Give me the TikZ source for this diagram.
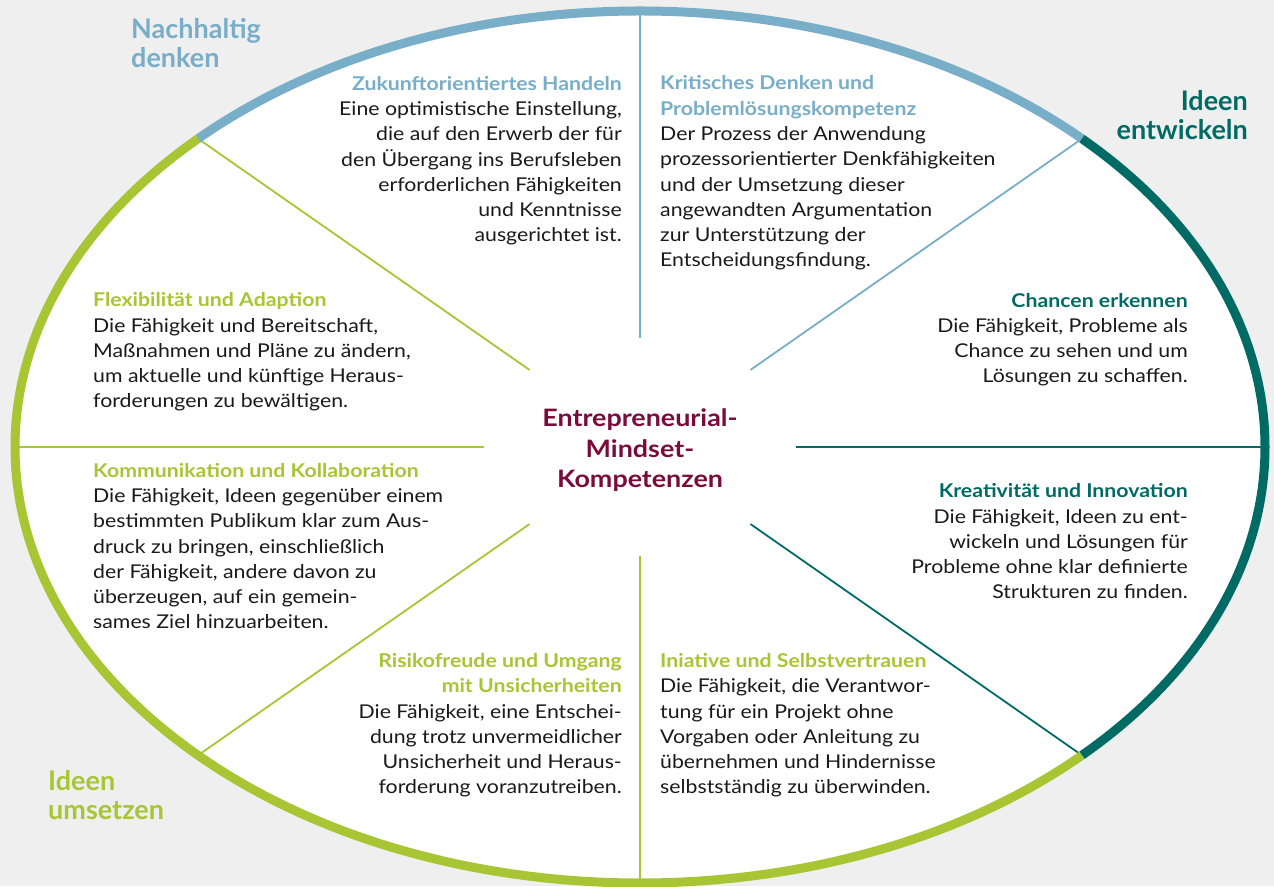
\documentclass[tikz,border=0pt]{standalone}
\usepackage{fontspec}
\setmainfont{Lato}
\newfontfamily\widefont[FakeStretch=1.12]{Lato}
\usepackage{xcolor}
\definecolor{bggray}{HTML}{EFEFEF}
\definecolor{nhblue}{HTML}{78AEC8}
\definecolor{ieteal}{HTML}{006B64}
\definecolor{iugreen}{HTML}{A8C534}
\definecolor{emmaroon}{HTML}{7A0C3C}
\definecolor{bodytext}{HTML}{1A1A1A}
% coloured bold heading line
\newcommand{\kt}[2]{\textcolor{#1}{\bfseries #2}}
\tikzset{
	ring/.style={line width=9pt, draw=#1},
	spoke/.style={line width=1.8pt, draw=#1},
	% blocks are placed by the baseline of their last line
	block/.style={inner sep=0pt, text=bodytext, font=\widefont\fontsize{19}{25.3}\selectfont},
	corner/.style={inner sep=0pt, align=left, font=\fontsize{27}{29}\selectfont\bfseries}
}

\begin{document}
\begin{tikzpicture}[x=1pt,y=1pt]
		\useasboundingbox (0,0) rectangle (1274,886);
		%--- Background and wheel ---
		\fill[bggray] (0,0) rectangle (1274,886);
		\coordinate (c) at (640,439);
		\fill[white] (c) ellipse [x radius=625, y radius=436];
		% spokes start a quarter of the way out
		\foreach \ang/\col in {90/nhblue,45/nhblue,0/ieteal,-45/ieteal,-90/iugreen,-135/iugreen,180/iugreen,135/iugreen}
			\draw[spoke=\col] ([shift={(c)}]\ang:156.25 and 109) -- ([shift={(c)}]\ang:625 and 436);
		% outer ring in three colours
		\draw[ring=nhblue] ([shift={(c)}]45:625 and 436) arc[start angle=45, end angle=135, x radius=625, y radius=436];
		\draw[ring=ieteal] ([shift={(c)}]-45:625 and 436) arc[start angle=-45, end angle=45, x radius=625, y radius=436];
		\draw[ring=iugreen] ([shift={(c)}]135:625 and 436) arc[start angle=135, end angle=315, x radius=625, y radius=436];

		%--- Centre ---
		\node[inner sep=0pt, align=center, text=emmaroon, font=\widefont\fontsize{24}{30.5}\selectfont\bfseries, anchor=base] (kern) at (640,398) {Entrepreneurial-\\Mindset-\\Kompetenzen};

		%--- Group labels ---
		\node[corner, text=nhblue, anchor=base west] (nachhaltig) at (131,818) {Nachhaltig\\denken};
		\node[corner, text=ieteal, anchor=base east, align=right] (entwickeln) at (1248,746) {Ideen\\entwickeln};
		\node[corner, text=iugreen, anchor=base west] (umsetzen) at (48,66) {Ideen\\umsetzen};

		%--- Competences, clockwise from the top ---
		\node[block, anchor=base east, align=right] (zukunft) at (622,644) {\kt{nhblue}{Zukunftorientiertes Handeln}\\Eine optimistische Einstellung,\\die auf den Erwerb der für\\den Übergang ins Berufsleben\\erforderlichen Fähigkeiten\\und Kenntnisse\\ausgerichtet ist.};
		\node[block, anchor=base west, align=left] (kritisch) at (660,619) {\kt{nhblue}{Kritisches Denken und}\\\kt{nhblue}{Problemlösungskompetenz}\\Der Prozess der Anwendung\\prozessorientierter Denkfähigkeiten\\und der Umsetzung dieser\\angewandten Argumentation\\zur Unterstützung der\\Entscheidungsfindung.};
		\node[block, anchor=base east, align=right] (chancen) at (1188,503) {\kt{ieteal}{Chancen erkennen}\\Die Fähigkeit, Probleme als\\Chance zu sehen und um\\Lösungen zu schaffen.};
		\node[block, anchor=base east, align=right] (kreativ) at (1188,287) {\kt{ieteal}{Kreativität und Innovation}\\Die Fähigkeit, Ideen zu ent-\\wickeln und Lösungen für\\Probleme ohne klar definierte\\Strukturen zu finden.};
		\node[block, anchor=base west, align=left] (initiative) at (660,92) {\kt{iugreen}{Iniative und Selbstvertrauen}\\Die Fähigkeit, die Verantwor-\\tung für ein Projekt ohne\\Vorgaben oder Anleitung zu\\übernehmen und Hindernisse\\selbstständig zu überwinden.};
		\node[block, anchor=base east, align=right] (risiko) at (622,92) {\kt{iugreen}{Risikofreude und Umgang}\\\kt{iugreen}{mit Unsicherheiten}\\Die Fähigkeit, eine Entschei-\\dung trotz unvermeidlicher\\Unsicherheit und Heraus-\\forderung voranzutreiben.};
		\node[block, anchor=base west, align=left] (kommunikation) at (93,257) {\kt{iugreen}{Kommunikation und Kollaboration}\\Die Fähigkeit, Ideen gegenüber einem\\bestimmten Publikum klar zum Aus-\\druck zu bringen, einschließlich\\der Fähigkeit, andere davon zu\\überzeugen, auf ein gemein-\\sames Ziel hinzuarbeiten.};
		\node[block, anchor=base west, align=left] (flexibel) at (93,478) {\kt{iugreen}{Flexibilität und Adaption}\\Die Fähigkeit und Bereitschaft,\\Maßnahmen und Pläne zu ändern,\\um aktuelle und künftige Heraus-\\forderungen zu bewältigen.};
	\end{tikzpicture}
\end{document}
